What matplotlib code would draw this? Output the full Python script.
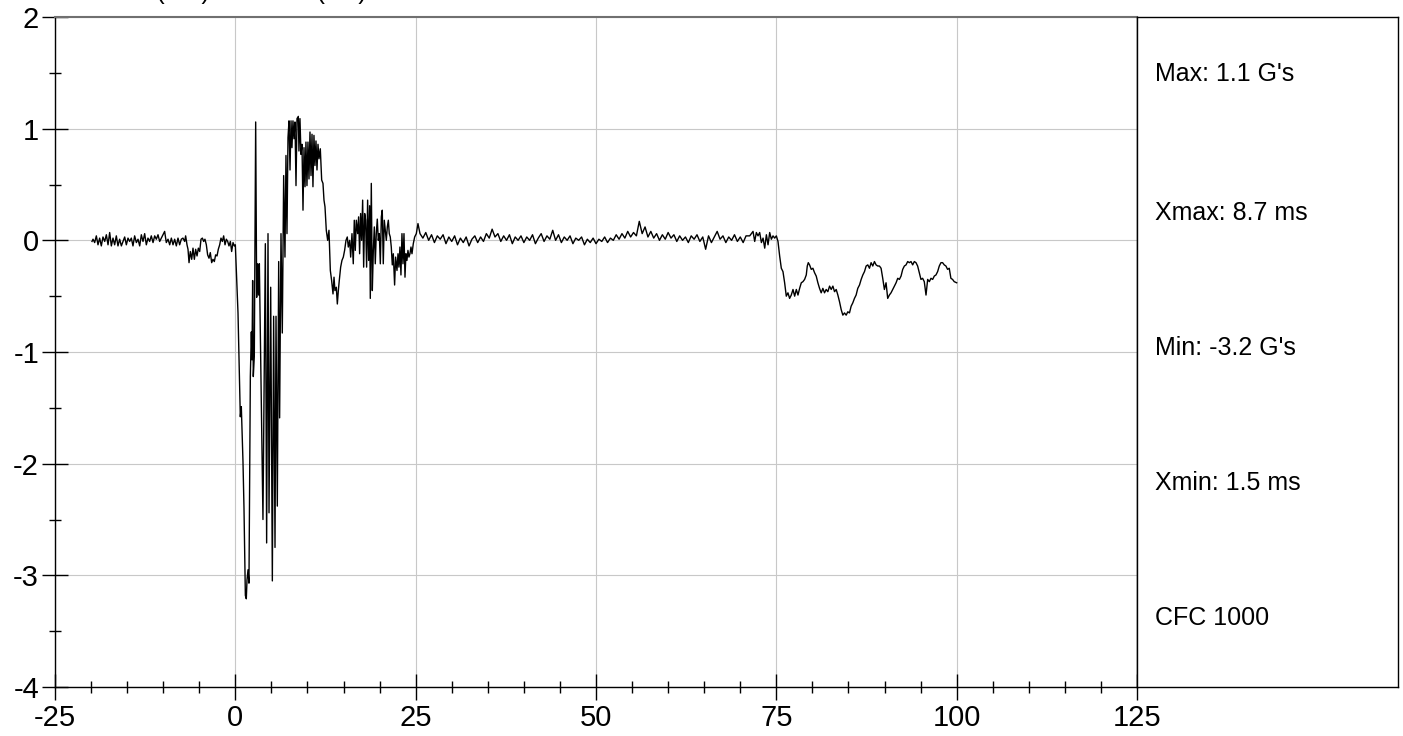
import numpy as np
import matplotlib.pyplot as plt
from matplotlib.ticker import MultipleLocator

plt.rcParams['font.family'] = ['Liberation Sans', 'DejaVu Sans']
plt.rcParams['axes.unicode_minus'] = False

# --- data (time in ms, acceleration in G's) ---
# quiet pre-impact part
pre_t = [-19.87, -19.73, -19.50, -19.27, -19.04, -18.81, -18.58, -18.35, -18.11, -17.88,
         -17.65, -17.42, -17.19, -16.96, -16.73, -16.50, -16.27, -16.04, -15.80, -15.57,
         -15.34, -15.11, -14.88, -14.65, -14.42, -14.19, -13.96, -13.72, -13.49, -13.26,
         -13.03, -12.80, -12.57, -12.34, -12.11, -11.88, -11.65, -11.41, -11.18, -10.95,
         -10.72, -10.49, -10.26, -10.03, -9.80, -9.57, -9.33, -9.10, -8.87, -8.64,
         -8.41, -8.18, -7.95, -7.72, -7.49, -7.26, -7.02, -6.89, -6.70, -6.56,
         -6.42, -6.24, -6.05, -5.87, -5.68, -5.50, -5.31, -5.13, -4.94, -4.76,
         -4.57, -4.39, -4.21, -4.02, -3.84, -3.65, -3.47, -3.28, -3.10, -2.91,
         -2.73, -2.54, -2.36, -2.17, -1.99, -1.80, -1.62, -1.43, -1.25, -1.06,
         -0.88, -0.69, -0.51, -0.32, -0.14, 0.00]
pre_v = [-0.01, 0.01, -0.02, 0.04, -0.04, 0.02, -0.05, 0.03, -0.01, 0.05,
         -0.04, 0.07, -0.05, 0.02, -0.04, 0.04, -0.05, 0.01, -0.05, -0.01,
         0.03, -0.04, 0.02, -0.01, 0.02, -0.05, 0.04, -0.02, 0.01, -0.05,
         0.05, -0.01, 0.06, -0.04, 0.02, -0.01, 0.04, -0.02, 0.04, 0.01,
         0.05, -0.01, 0.02, 0.05, 0.08, -0.02, 0.01, -0.04, 0.02, -0.04,
         0.01, -0.05, 0.02, -0.04, 0.01, 0.02, -0.01, 0.04, -0.04, -0.08,
         -0.20, -0.10, -0.17, -0.07, -0.17, -0.08, -0.14, -0.07, -0.10, 0.01,
         0.02, -0.01, 0.01, -0.04, -0.13, -0.16, -0.11, -0.20, -0.17, -0.19,
         -0.13, -0.14, -0.08, -0.04, 0.02, -0.01, 0.04, -0.04, 0.01, -0.01,
         -0.05, -0.01, -0.10, -0.02, -0.05, -0.04]

# impact pulse
crash_t = [0.37, 0.69, 0.83, 1.06, 1.20, 1.39, 1.52, 1.62, 1.76, 1.89,
           2.08, 2.22, 2.31, 2.40, 2.49, 2.63, 2.82, 2.96, 3.10, 3.23,
           3.33, 3.83, 4.16, 4.34, 4.53, 4.67, 4.90, 5.13, 5.31, 5.50,
           5.64, 5.82, 6.01, 6.14, 6.33, 6.51, 6.70, 6.88, 7.02, 7.16,
           7.30, 7.44, 7.58, 7.72, 7.85, 7.99, 8.13, 8.27, 8.41, 8.55,
           8.64, 8.73, 8.82, 8.96, 9.10, 9.24, 9.38, 9.52, 9.66, 9.79,
           9.93, 10.07, 10.21, 10.35, 10.49, 10.63, 10.76, 10.90, 11.04, 11.18,
           11.32, 11.46, 11.60, 11.78, 11.97, 12.15, 12.29, 12.43, 12.61, 12.80,
           12.98, 13.17, 13.35, 13.54, 13.68, 13.81, 14.00, 14.14, 14.28, 14.41,
           14.60, 14.78, 14.97, 15.15, 15.34, 15.52, 15.66, 15.85, 15.99, 16.17,
           16.35, 16.49, 16.63, 16.77, 16.96, 17.09, 17.23, 17.37, 17.51, 17.65,
           17.79, 17.93, 18.06, 18.20, 18.34, 18.48, 18.62, 18.71, 18.85, 18.99,
           19.13, 19.27, 19.40, 19.54, 19.68, 19.82, 19.96, 20.10, 20.24, 20.37,
           20.51, 20.65, 20.79, 20.93, 21.07, 21.21, 21.34, 21.48, 21.62, 21.76,
           21.90, 22.08, 22.22, 22.41, 22.55, 22.68, 22.82, 22.96, 23.10, 23.24,
           23.38, 23.52, 23.65, 23.79, 23.93, 24.07, 24.21, 24.35, 24.49, 24.67,
           24.86, 25.09, 25.32]
crash_v = [-0.65, -1.58, -1.49, -1.98, -2.40, -3.18, -3.21, -3.04, -2.95, -3.07,
           -1.22, -0.82, -1.07, -0.36, -1.22, -1.04, 1.06, -0.51, -0.21, -0.49,
           -0.21, -2.50, -0.03, -2.71, 0.06, -2.44, -0.42, -3.05, -0.68, -2.75,
           -0.68, -2.38, -0.19, -1.59, 0.06, -0.83, 0.58, -0.15, 0.76, 0.06,
           0.92, 1.07, 0.63, 1.07, 0.83, 1.07, 0.91, 1.06, 0.49, 1.09,
           1.10, 1.11, 0.80, 1.09, 0.77, 0.86, 0.27, 0.83, 0.48, 0.88,
           0.49, 0.88, 0.55, 0.97, 0.58, 0.95, 0.48, 0.94, 0.67, 0.89,
           0.63, 0.86, 0.73, 0.82, 0.54, 0.51, 0.36, 0.30, 0.09, 0.00,
           0.09, -0.27, -0.36, -0.48, -0.33, -0.45, -0.42, -0.57, -0.45, -0.36,
           -0.24, -0.18, -0.15, -0.09, 0.00, 0.03, -0.06, 0.00, -0.15, 0.06,
           -0.21, 0.18, -0.09, 0.18, 0.06, 0.21, -0.12, 0.24, 0.00, 0.36,
           -0.24, 0.24, 0.18, -0.24, 0.36, -0.18, 0.31, -0.52, 0.51, -0.45,
           -0.09, 0.12, -0.21, 0.06, 0.19, 0.00, 0.06, -0.21, 0.21, 0.27,
           -0.21, 0.18, 0.09, 0.00, 0.12, 0.18, 0.06, 0.03, -0.06, -0.22,
           -0.12, -0.40, -0.15, -0.27, -0.12, -0.24, -0.06, -0.31, 0.06, -0.21,
           0.06, -0.33, -0.12, -0.18, -0.09, -0.15, -0.12, -0.06, -0.12, -0.03,
           0.03, 0.06, 0.15]

# quiet middle part, sampled every 0.4 ms from 25.6 ms
quiet_start, quiet_step = 25.6, 0.4
quiet_v = [0.06, 0.02, 0.07, 0.00, 0.05, -0.02, 0.04, 0.01, 0.05, -0.03,
           0.03, -0.01, 0.04, -0.04, 0.02, -0.02, 0.03, -0.05, 0.01, 0.04,
           -0.02, 0.03, -0.01, 0.06, 0.02, 0.10, 0.03, 0.06, -0.01, 0.04,
           0.00, 0.05, -0.03, 0.03, 0.00, 0.04, -0.02, 0.03, 0.00, 0.05,
           -0.03, 0.02, 0.06, -0.01, 0.04, 0.01, 0.09, 0.00, 0.05, -0.02,
           0.03, 0.00, 0.04, -0.03, 0.02, 0.00, 0.03, -0.04, 0.01, -0.02,
           0.02, -0.03, 0.01, -0.01, 0.03, -0.02, 0.02, 0.00, 0.05, 0.01,
           0.06, 0.02, 0.08, 0.03, 0.07, 0.04, 0.17, 0.06, 0.12, 0.03,
           0.08, 0.02, 0.06, 0.00, 0.05, 0.01, 0.07, 0.02, 0.05, -0.01,
           0.04, 0.00, 0.03, -0.02, 0.04, 0.01, 0.05, -0.01, 0.03, -0.08,
           0.04, -0.02, 0.03, 0.08, 0.01, 0.04, -0.02, 0.03, 0.00, 0.05,
           -0.01, 0.03, -0.02, 0.04]

# rebound / second event
tail_t = [71.31, 71.77, 72.00, 72.23, 72.46, 72.69, 72.93, 73.16, 73.39, 73.62,
          73.85, 74.08, 74.31, 74.54, 74.77, 75.00, 75.23, 75.46, 75.69, 75.92,
          76.15, 76.38, 76.61, 76.84, 77.07, 77.31, 77.54, 77.77, 78.00, 78.23,
          78.46, 78.69, 78.92, 79.15, 79.29, 79.43, 79.61, 79.84, 80.07, 80.30,
          80.53, 80.76, 80.99, 81.22, 81.45, 81.68, 81.91, 82.14, 82.38, 82.61,
          82.84, 83.07, 83.30, 83.53, 83.76, 83.99, 84.22, 84.45, 84.68, 84.91,
          85.14, 85.37, 85.60, 85.83, 86.06, 86.29, 86.53, 86.76, 86.99, 87.22,
          87.45, 87.68, 87.91, 88.14, 88.37, 88.60, 88.83, 89.06, 89.29, 89.52,
          89.75, 89.98, 90.21, 90.44, 90.67, 90.90, 91.14, 91.37, 91.60, 91.83,
          92.06, 92.29, 92.52, 92.75, 92.98, 93.21, 93.44, 93.67, 93.90, 94.13,
          94.36, 94.59, 94.82, 95.05, 95.28, 95.51, 95.75, 95.98, 96.21, 96.44,
          96.67, 96.90, 97.13, 97.36, 97.59, 97.82, 98.05, 98.28, 98.51, 98.74,
          98.97, 99.20, 99.43, 99.66, 100.00]
tail_v = [0.04, 0.08, -0.01, 0.07, 0.04, 0.07, -0.02, 0.02, -0.07, 0.05,
          -0.04, 0.07, 0.01, 0.04, 0.02, 0.04, -0.01, -0.14, -0.25, -0.28,
          -0.38, -0.50, -0.47, -0.52, -0.49, -0.44, -0.50, -0.44, -0.49, -0.43,
          -0.38, -0.37, -0.35, -0.31, -0.23, -0.20, -0.22, -0.26, -0.25, -0.29,
          -0.32, -0.38, -0.43, -0.47, -0.43, -0.47, -0.44, -0.46, -0.41, -0.44,
          -0.41, -0.46, -0.44, -0.49, -0.55, -0.62, -0.67, -0.65, -0.67, -0.64,
          -0.65, -0.59, -0.56, -0.52, -0.49, -0.43, -0.40, -0.35, -0.31, -0.28,
          -0.23, -0.22, -0.25, -0.20, -0.23, -0.19, -0.22, -0.23, -0.23, -0.25,
          -0.34, -0.44, -0.38, -0.52, -0.49, -0.47, -0.44, -0.41, -0.38, -0.34,
          -0.35, -0.32, -0.26, -0.23, -0.22, -0.19, -0.20, -0.19, -0.22, -0.19,
          -0.20, -0.23, -0.29, -0.35, -0.34, -0.37, -0.49, -0.35, -0.37, -0.34,
          -0.35, -0.32, -0.31, -0.28, -0.23, -0.20, -0.20, -0.22, -0.23, -0.26,
          -0.25, -0.34, -0.35, -0.37, -0.38]

stats_labels = ["Max: 1.1 G's", "Xmax: 8.7 ms", "Min: -3.2 G's", "Xmin: 1.5 ms", "CFC 1000"]
title = "Acceleration (G's) vs. Time (ms)"

quiet_t = quiet_start + quiet_step * np.arange(len(quiet_v))
t = np.concatenate([pre_t, crash_t, quiet_t, tail_t])
v = np.concatenate([pre_v, crash_v, quiet_v, tail_v])

# --- figure ---
W, H = 1403, 736
fig = plt.figure(figsize=(W / 100, H / 100), dpi=100)

ax = fig.add_axes([55 / W, 49 / H, 1082 / W, 670 / H])
ax.plot(t, v, color='black', lw=1.0)
ax.set_xlim(-25, 125)
ax.set_ylim(-4, 2)
ax.xaxis.set_major_locator(MultipleLocator(25))
ax.xaxis.set_minor_locator(MultipleLocator(5))
ax.yaxis.set_major_locator(MultipleLocator(1))
ax.yaxis.set_minor_locator(MultipleLocator(0.5))
ax.grid(True, which='major', color='#c8c8c8', lw=0.8)
ax.set_axisbelow(True)
ax.tick_params(which='major', direction='inout', length=19, width=1, labelsize=21, color='black')
ax.tick_params(which='minor', direction='inout', length=9, width=1, color='black')
ax.tick_params(axis='x', which='major', pad=3)
ax.tick_params(axis='y', which='major', pad=2)
for s in ['left', 'bottom', 'right']:
    ax.spines[s].set_color('black')
    ax.spines[s].set_linewidth(1)
ax.spines['top'].set_color('#707070')
ax.spines['top'].set_linewidth(1.5)

# side panel with the summary values
ax2 = fig.add_axes([1137 / W, 49 / H, 261 / W, 670 / H])
ax2.set_xticks([])
ax2.set_yticks([])
for s in ax2.spines.values():
    s.set_color('black')
    s.set_linewidth(1)
rows = [0.915, 0.707, 0.506, 0.304, 0.103]
for lab, y in zip(stats_labels, rows):
    ax2.text(0.069, y, lab, transform=ax2.transAxes, fontsize=18, va='center', ha='left')

# title sits mostly above the canvas, as in the source image
fig.text(12 / W, 1 + 1.3 / H, title, fontsize=18, va='baseline', ha='left')

fig.savefig('out.png', dpi=100)
